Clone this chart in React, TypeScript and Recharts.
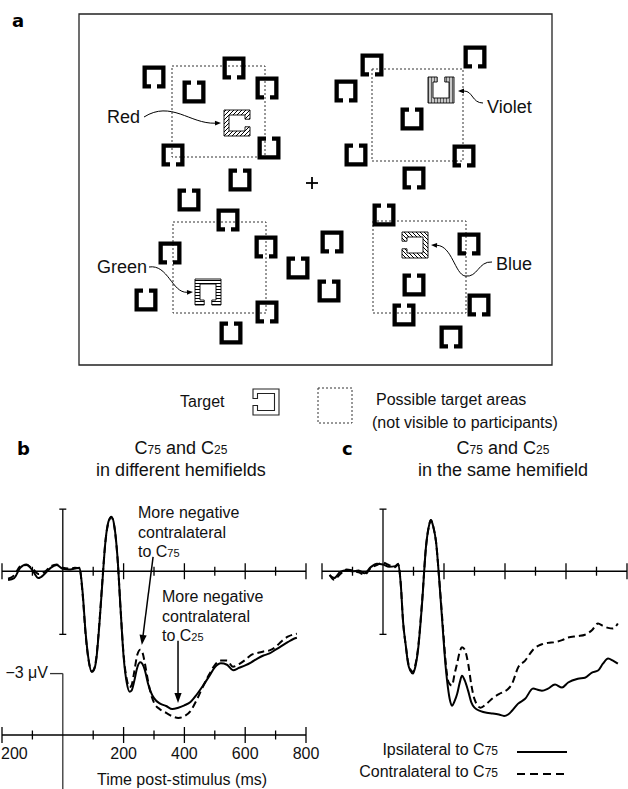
import React from "react";
import {
  ScatterChart,
  Scatter,
  LineChart,
  Line,
  XAxis,
  YAxis,
  ReferenceArea,
  ReferenceLine,
  Legend,
} from "recharts";

const FONT = '"Liberation Sans", Arial, Helvetica, sans-serif';
const INK = "#111";

// ---------- panel a: search display (fixation at 0,0, y up) ----------
const distractorX = [-15.8, -11.8, -7.8, -4.5, -13.9, -4.3, -7.2, -12.3, -8.4, -14.2, -4.6, -1.4, -16.6, -4.5, -8.1, 6.0, 3.4, 16.3, 10.0, 4.4, 15.2, 10.2, 7.2, 2.0, 1.7, 15.7, 10.2, 16.7, 9.2, 13.9];
const distractorY = [10.6, 9.1, 11.5, 9.5, 2.8, 3.5, 0.3, -1.7, -3.7, -7.0, -6.4, -8.5, -11.7, -12.9, -15.0, 11.8, 9.2, 12.6, 6.4, 2.8, 2.7, 0.5, -3.2, -5.9, -10.8, -6.1, -10.2, -12.2, -13.2, -15.4];
const distractorGap = ["b", "t", "b", "b", "b", "t", "t", "t", "b", "b", "b", "t", "t", "b", "t", "b", "b", "b", "t", "t", "b", "b", "t", "b", "t", "b", "t", "b", "t", "b"];

const targetNames = ["Red", "Green", "Violet", "Blue"];
const targetX = [-7.5, -10.4, 12.9, 10.3];
const targetY = [6.0, -10.9, 9.3, -6.2];
const targetGap = ["r", "b", "t", "l"];

const areaX1 = [-14.0, -13.9, 6.0, 6.1];
const areaX2 = [-4.7, -4.6, 15.1, 15.4];
const areaY1 = [2.6, -13.0, 2.2, -13.0];
const areaY2 = [11.7, -3.9, 11.4, -3.8];

// callout arrows: label end -> target
const calloutFromX = [-16.8, -16.3, 17.1, 18.0];
const calloutFromY = [6.6, -8.4, 8.0, -7.9];
const calloutToX = [-9.1, -11.9, 14.6, 11.9];
const calloutToY = [6.0, -10.9, 9.2, -6.2];

// ---------- panels b and c: ERP waveforms (ms, microvolts) ----------
const timeTicks = [-200, -100, 0, 100, 200, 300, 400, 500, 600, 700, 800];

const timesB = [-180, -160, -140, -120, -100, -80, -60, -40, -20, 0, 20, 40, 55, 65, 75, 85, 95, 102, 110, 120, 130, 140, 150, 160, 170, 180, 190, 200, 210, 220, 226, 235, 245, 255, 262, 270, 280, 290, 300, 320, 340, 360, 380, 400, 420, 440, 460, 480, 500, 520, 540, 560, 580, 600, 620, 640, 660, 680, 700, 720, 740, 760, 770];
const ipsiB = [-0.26, -0.2, 0.1, 0.2, 0.03, -0.2, -0.08, 0.1, 0.18, 0.07, 0.05, 0.08, 0.1, -0.6, -1.8, -2.6, -2.95, -2.9, -2.6, -1.6, -0.35, 0.85, 1.45, 1.6, 1.3, 0.4, -1.1, -2.5, -3.25, -3.53, -3.5, -3.22, -2.82, -2.67, -2.72, -2.9, -3.28, -3.55, -3.72, -3.88, -3.95, -4.04, -4.0, -3.93, -3.83, -3.62, -3.37, -3.1, -2.82, -2.7, -2.74, -2.9, -2.83, -2.76, -2.67, -2.56, -2.47, -2.41, -2.3, -2.19, -2.08, -1.98, -1.95];
const contraB = [-0.22, -0.12, 0.14, 0.18, 0.08, -0.08, -0.02, 0.14, 0.2, 0.1, 0.08, 0.1, 0.08, -0.65, -1.85, -2.62, -2.93, -2.88, -2.55, -1.55, -0.3, 0.85, 1.42, 1.58, 1.28, 0.38, -1.1, -2.45, -3.15, -3.4, -3.35, -2.95, -2.45, -2.3, -2.38, -2.7, -3.2, -3.6, -3.85, -4.05, -4.15, -4.25, -4.3, -4.25, -4.1, -3.78, -3.4, -3.05, -2.75, -2.62, -2.62, -2.8, -2.72, -2.6, -2.45, -2.4, -2.35, -2.32, -2.22, -2.05, -1.92, -1.85, -1.83];

const timesC = [-175, -160, -140, -120, -100, -80, -60, -40, -20, 0, 20, 40, 50, 58, 66, 75, 82, 90, 98, 106, 115, 128, 141, 150, 157, 165, 174, 184, 197, 206, 213, 220, 226, 235, 243, 252, 259, 268, 279, 290, 300, 320, 340, 360, 380, 397, 410, 423, 443, 466, 492, 510, 521, 541, 564, 587, 607, 639, 662, 685, 705, 721, 738, 754, 770];
const ipsiC = [-0.12, -0.2, -0.02, 0.03, 0.0, 0.02, -0.06, 0.12, 0.22, 0.2, 0.13, 0.15, 0.22, -0.35, -1.5, -2.2, -2.7, -2.92, -3.0, -2.8, -2.3, -0.95, 0.72, 1.3, 1.5, 1.3, 0.85, -0.2, -1.82, -2.85, -3.42, -3.8, -3.94, -3.8, -3.6, -3.25, -3.06, -3.2, -3.5, -3.85, -4.0, -4.1, -4.15, -4.17, -4.2, -4.24, -4.2, -4.09, -3.88, -3.74, -3.44, -3.48, -3.5, -3.44, -3.32, -3.41, -3.26, -3.15, -3.12, -2.97, -2.91, -2.71, -2.56, -2.62, -2.71];
const contraC = [-0.1, -0.25, -0.08, 0.05, 0.02, -0.03, -0.1, 0.1, 0.18, 0.25, 0.18, 0.12, 0.2, -0.35, -1.5, -2.2, -2.65, -2.88, -2.95, -2.75, -2.25, -0.9, 0.72, 1.3, 1.5, 1.3, 0.85, -0.2, -1.7, -2.72, -3.2, -3.32, -3.35, -3.0, -2.7, -2.35, -2.23, -2.3, -2.7, -3.35, -3.75, -4.0, -3.88, -3.72, -3.6, -3.53, -3.45, -3.3, -2.82, -2.62, -2.3, -2.18, -2.14, -2.1, -2.08, -2.02, -1.94, -1.9, -1.86, -1.73, -1.53, -1.6, -1.66, -1.68, -1.53];

const seriesLabels = ["Ipsilateral to C", "Contralateral to C"];

// ---------- derived tables ----------
const distractors = distractorX.map((x, i) => ({ x, y: distractorY[i], gap: distractorGap[i] }));
const targets = targetX.map((x, i) => ({ x, y: targetY[i], gap: targetGap[i], name: targetNames[i], idx: i }));
const fixation = [{ x: 0, y: 0 }];
const dataB = timesB.map((t, i) => ({ t, ipsi: ipsiB[i], contra: contraB[i] }));
const dataC = timesC.map((t, i) => ({ t, ipsi: ipsiC[i], contra: contraC[i] }));

// ---------- shapes ----------
function rotate(dir: string, x: number, y: number): [number, number] {
  if (dir === "l") return [-y, x];
  if (dir === "t") return [-x, -y];
  if (dir === "r") return [y, -x];
  return [x, y];
}

// C outline with the opening at `dir`
function cPath(cx: number, cy: number, h: number, w: number, g: number, dir: string) {
  const pts: [number, number][] = [
    [-g, h], [-h, h], [-h, -h], [h, -h], [h, h], [g, h],
    [g, h - w], [h - w, h - w], [h - w, -h + w], [-h + w, -h + w], [-h + w, h - w], [-g, h - w],
  ];
  return (
    pts
      .map(([x, y], i) => {
        const [rx, ry] = rotate(dir, x, y);
        return `${i === 0 ? "M" : "L"}${(cx + rx).toFixed(2)},${(cy + ry).toFixed(2)}`;
      })
      .join(" ") + " Z"
  );
}

const DistractorShape = (p: any) => (
  <path d={cPath(p.cx, p.cy, 11.5, 4.3, 3, p.payload.gap)} fill="#000" />
);

const hatchDefs = [
  // red: ////
  (id: string) => (
    <pattern id={id} patternUnits="userSpaceOnUse" width={4} height={4}>
      <rect width={4} height={4} fill="#fff" />
      <path d="M-1,1 l2,-2 M0,4 l4,-4 M3,5 l2,-2" stroke="#000" strokeWidth={1} />
    </pattern>
  ),
  // green: horizontal
  (id: string) => (
    <pattern id={id} patternUnits="userSpaceOnUse" width={3} height={3}>
      <rect width={3} height={3} fill="#fff" />
      <path d="M0,1.5 H3" stroke="#000" strokeWidth={1} />
    </pattern>
  ),
  // violet: vertical on grey
  (id: string) => (
    <pattern id={id} patternUnits="userSpaceOnUse" width={3} height={3}>
      <rect width={3} height={3} fill="#c8c8c8" />
      <path d="M1.5,0 V3" stroke="#444" strokeWidth={0.8} />
    </pattern>
  ),
  // blue: \\\\
  (id: string) => (
    <pattern id={id} patternUnits="userSpaceOnUse" width={4} height={4}>
      <rect width={4} height={4} fill="#fff" />
      <path d="M-1,3 l2,2 M0,0 l4,4 M3,-1 l2,2" stroke="#000" strokeWidth={1} />
    </pattern>
  ),
];

const TargetShape = (p: any) => {
  const id = `hatch-${p.payload.name}`;
  return (
    <g>
      <defs>{hatchDefs[p.payload.idx](id)}</defs>
      <path d={cPath(p.cx, p.cy, 13, 5, 3.8, p.payload.gap)} fill={`url(#${id})`} stroke="#000" strokeWidth={0.9} />
    </g>
  );
};

const CrossShape = (p: any) => (
  <g stroke="#000" strokeWidth={1.8}>
    <line x1={p.cx - 6} x2={p.cx + 6} y1={p.cy} y2={p.cy} />
    <line x1={p.cx} x2={p.cx} y1={p.cy - 6} y2={p.cy + 6} />
  </g>
);

function arrowHead(fx: number, fy: number, x: number, y: number, len: number, half: number) {
  const a = Math.atan2(y - fy, x - fx);
  const bx = x - len * Math.cos(a);
  const by = y - len * Math.sin(a);
  const nx = -Math.sin(a) * half;
  const ny = Math.cos(a) * half;
  return { bx, by, points: `${x},${y} ${bx + nx},${by + ny} ${bx - nx},${by - ny}` };
}

// curve bends (pixel offsets) for the four callouts
const calloutBends: any[] = [
  { c1: [27, -17], c2: [-31, 1] },
  { c1: [19, -3], c2: [-21, 1] },
  { c1: [-11, 0], c2: [15, 0] },
  { c1: [-14, -1], mid: [-27, 14], m1: [13, 2], m2: [-10, -2], c2: [21, 1] },
];

const curvedArrow = (bend: any) => (p: any) => {
  const { x1, y1, x2, y2 } = p;
  const c1x = x1 + bend.c1[0], c1y = y1 + bend.c1[1];
  const c2x = x2 + bend.c2[0], c2y = y2 + bend.c2[1];
  const head = arrowHead(c2x, c2y, x2, y2, 6, 2.4);
  let d: string;
  if (bend.mid) {
    const mx = x1 + bend.mid[0], my = y1 + bend.mid[1];
    d = `M${x1},${y1} C${c1x},${c1y} ${mx + bend.m1[0]},${my + bend.m1[1]} ${mx},${my} C${mx + bend.m2[0]},${my + bend.m2[1]} ${c2x},${c2y} ${head.bx},${head.by}`;
  } else {
    d = `M${x1},${y1} C${c1x},${c1y} ${c2x},${c2y} ${head.bx},${head.by}`;
  }
  return (
    <g>
      <path d={d} fill="none" stroke="#000" strokeWidth={1} />
      <polygon points={head.points} fill="#000" />
    </g>
  );
};

const straightArrow = (p: any) => {
  const { x1, y1, x2, y2 } = p;
  const head = arrowHead(x1, y1, x2, y2, 10, 3.6);
  return (
    <g>
      <line x1={x1} y1={y1} x2={head.bx} y2={head.by} stroke="#000" strokeWidth={1.5} />
      <polygon points={head.points} fill="#000" />
    </g>
  );
};

const capBar = (p: any) => (
  <g stroke="#000" strokeWidth={1.3}>
    <line x1={p.x1} y1={p.y1} x2={p.x2} y2={p.y2} />
    <line x1={p.x1 - 3.5} x2={p.x1 + 3.5} y1={p.y1} y2={p.y1} />
    <line x1={p.x2 - 3.5} x2={p.x2 + 3.5} y1={p.y2} y2={p.y2} />
  </g>
);

// the left-most label is cropped to "200" at the figure edge
const BottomTick = (props: any) => {
  const { x, y, payload } = props;
  const v = payload.value;
  if (v === 0) return <g />;
  const major = v % 200 === 0;
  const h = major ? 8 : 4.5;
  return (
    <g>
      <line x1={x} x2={x} y1={y - h} y2={y + h} stroke="#000" strokeWidth={1.3} />
      {major && (
        <text
          x={v < 0 ? 1 : x}
          y={y + 24}
          textAnchor={v < 0 ? "start" : "middle"}
          fontFamily={FONT}
          fontSize={16}
          fill={INK}
        >
          {Math.abs(v)}
        </text>
      )}
    </g>
  );
};

// ---------- panels ----------
function PanelA() {
  return (
    <div style={{ position: "absolute", left: 70, top: 6 }}>
      <ScatterChart width={505} height={435} margin={{ top: 8, right: 7, bottom: 0, left: 8 }}>
        <XAxis type="number" dataKey="x" domain={[-23.4, 25.6]} hide allowDataOverflow />
        <YAxis type="number" dataKey="y" domain={[-25.8, 16.9]} hide allowDataOverflow />
        <ReferenceArea x1={-23.3} x2={24.0} y1={-18.2} y2={16.9} fill="none" fillOpacity={0} stroke="#222" strokeWidth={1.3} ifOverflow="visible" />
        {areaX1.map((x1, i) => (
          <ReferenceArea
            key={`area-${i}`}
            x1={x1}
            x2={areaX2[i]}
            y1={areaY1[i]}
            y2={areaY2[i]}
            fill="none"
            fillOpacity={0}
            stroke="#333"
            strokeWidth={1}
            strokeDasharray="2 2"
          />
        ))}
        {calloutFromX.map((fx, i) => (
          <ReferenceLine
            key={`callout-${i}`}
            segment={[
              { x: fx, y: calloutFromY[i] },
              { x: calloutToX[i], y: calloutToY[i] },
            ]}
            stroke="#000"
            shape={curvedArrow(calloutBends[i])}
          />
        ))}
        <Scatter data={distractors} shape={DistractorShape} isAnimationActive={false} />
        <Scatter data={targets} shape={TargetShape} isAnimationActive={false} />
        <Scatter data={fixation} shape={CrossShape} isAnimationActive={false} />
      </ScatterChart>
    </div>
  );
}

function upperAxis() {
  return [
    <ReferenceLine key="zero" y={0} stroke="#000" strokeWidth={1.3} />,
    ...timeTicks
      .filter((t) => t !== 0)
      .map((t) => {
        const h = (t % 200 === 0 ? 8 : 4.5) / 34.12;
        return (
          <ReferenceLine
            key={`ut-${t}`}
            segment={[
              { x: t, y: h },
              { x: t, y: -h },
            ]}
            stroke="#000"
            strokeWidth={1.3}
          />
        );
      }),
    <ReferenceLine
      key="ybar"
      segment={[
        { x: 0, y: 1.82 },
        { x: 0, y: -1.85 },
      ]}
      stroke="#000"
      shape={capBar}
    />,
  ];
}

function PanelB() {
  return (
    <div style={{ position: "absolute", left: 0, top: 440 }}>
      <LineChart width={320} height={349} data={dataB} margin={{ top: 63, right: 14, bottom: 0, left: 2 }}>
        <XAxis
          type="number"
          dataKey="t"
          domain={[-200, 800]}
          allowDataOverflow
          ticks={timeTicks}
          interval={0}
          height={54}
          tickSize={0}
          tickMargin={0}
          tickLine={false}
          axisLine={{ stroke: "#000", strokeWidth: 1.3 }}
          tick={BottomTick}
        />
        <YAxis type="number" domain={[-4.8, 2]} hide allowDataOverflow />
        {upperAxis()}
        <ReferenceLine
          segment={[
            { x: -42, y: -3 },
            { x: 0, y: -3 },
          ]}
          stroke="#333"
          strokeWidth={1.3}
        />
        <ReferenceLine
          segment={[
            { x: 0, y: -3 },
            { x: 0, y: -6.6 },
          ]}
          stroke="#333"
          strokeWidth={1.3}
          ifOverflow="visible"
        />
        <ReferenceLine
          segment={[
            { x: 297, y: 0.42 },
            { x: 260, y: -2.16 },
          ]}
          stroke="#000"
          shape={straightArrow}
        />
        <ReferenceLine
          segment={[
            { x: 379, y: -2.04 },
            { x: 379, y: -3.86 },
          ]}
          stroke="#000"
          shape={straightArrow}
        />
        <Line type="monotone" dataKey="contra" stroke="#000" strokeWidth={2} strokeDasharray="7 4" dot={false} isAnimationActive={false} />
        <Line type="monotone" dataKey="ipsi" stroke="#000" strokeWidth={2} dot={false} isAnimationActive={false} />
      </LineChart>
    </div>
  );
}

const LegendC = () => (
  <div style={{ fontFamily: FONT, fontSize: 16, color: INK }}>
    {seriesLabels.map((label, i) => (
      <div key={label} style={{ display: "flex", alignItems: "center", height: 22 }}>
        <div style={{ width: 188, textAlign: "right", whiteSpace: "nowrap" }}>
          {label}
          <span style={{ fontSize: 12 }}>75</span>
        </div>
        <svg width={50} height={22} style={{ marginLeft: 19 }}>
          <line x1={0} x2={50} y1={13} y2={13} stroke="#000" strokeWidth={2} strokeDasharray={i === 1 ? "8 5" : undefined} />
        </svg>
      </div>
    ))}
  </div>
);

function PanelC() {
  return (
    <div style={{ position: "absolute", left: 310, top: 440 }}>
      <LineChart width={318} height={349} data={dataC} margin={{ top: 63, right: 1, bottom: 54, left: 12 }}>
        <XAxis type="number" dataKey="t" domain={[-200, 800]} allowDataOverflow hide />
        <YAxis type="number" domain={[-4.8, 2]} hide allowDataOverflow />
        {upperAxis()}
        <Line type="monotone" dataKey="contra" stroke="#000" strokeWidth={2} strokeDasharray="7 4" dot={false} isAnimationActive={false} />
        <Line type="monotone" dataKey="ipsi" stroke="#000" strokeWidth={2} dot={false} isAnimationActive={false} />
        <Legend
          layout="vertical"
          align="center"
          verticalAlign="middle"
          wrapperStyle={{ left: 0, top: 299, width: 270, height: 44 }}
          content={() => <LegendC />}
        />
      </LineChart>
    </div>
  );
}

function Overlay() {
  const t = { fontFamily: FONT, fill: INK } as any;
  const heavy = { fontFamily: '"DejaVu Sans", "Liberation Sans", sans-serif', fill: "#000", fontWeight: 700, fontSize: 18 } as any;
  return (
    <svg
      width={628}
      height={789}
      style={{ position: "absolute", left: 0, top: 0, pointerEvents: "none" }}
    >
      {/* panel letters */}
      <text x={12} y={27} {...heavy}>a</text>
      <text x={17} y={455} {...heavy}>b</text>
      <text x={342} y={455} {...heavy}>c</text>

      {/* panel a labels */}
      <text x={107} y={123} {...t} fontSize={18}>Red</text>
      <text x={97} y={273} {...t} fontSize={18}>Green</text>
      <text x={487} y={113} {...t} fontSize={18}>Violet</text>
      <text x={496} y={270} {...t} fontSize={18}>Blue</text>

      {/* panel a legend */}
      <text x={180} y={407} {...t} fontSize={16}>Target</text>
      <path d={cPath(266, 402, 13, 4.5, 3.5, "l")} fill="#fff" stroke="#222" strokeWidth={1.1} />
      <rect x={318} y={388} width={34} height={35} fill="none" stroke="#333" strokeWidth={1} strokeDasharray="2 2" />
      <text x={376} y={405} {...t} fontSize={16}>Possible target areas</text>
      <text x={372} y={428} {...t} fontSize={16}>(not visible to participants)</text>

      {/* titles */}
      <text x={181} y={454} textAnchor="middle" {...t} fontSize={18}>
        C<tspan fontSize={12}>75</tspan> and C<tspan fontSize={12}>25</tspan>
      </text>
      <text x={181} y={476} textAnchor="middle" {...t} fontSize={18}>in different hemifields</text>
      <text x={503} y={454} textAnchor="middle" {...t} fontSize={18}>
        C<tspan fontSize={12}>75</tspan> and C<tspan fontSize={12}>25</tspan>
      </text>
      <text x={503} y={476} textAnchor="middle" {...t} fontSize={18}>in the same hemifield</text>

      {/* panel b annotations */}
      <text x={138} y={518} {...t} fontSize={16}>More negative</text>
      <text x={138} y={538} {...t} fontSize={16}>contralateral</text>
      <text x={138} y={557} {...t} fontSize={16}>
        to C<tspan fontSize={11}>75</tspan>
      </text>
      <text x={162} y={602} {...t} fontSize={16}>More negative</text>
      <text x={162} y={622} {...t} fontSize={16}>contralateral</text>
      <text x={162} y={641} {...t} fontSize={16}>
        to C<tspan fontSize={11}>25</tspan>
      </text>

      <text x={48} y={678} textAnchor="end" {...t} fontSize={16}>{"\u22123 \u03bcV"}</text>
      <text x={182} y={785} textAnchor="middle" {...t} fontSize={16}>Time post-stimulus (ms)</text>
    </svg>
  );
}

export default function App() {
  return (
    <div style={{ position: "absolute", left: 0, top: 0, width: 628, height: 789, background: "#fff" }}>
      <PanelA />
      <PanelB />
      <PanelC />
      <Overlay />
    </div>
  );
}
